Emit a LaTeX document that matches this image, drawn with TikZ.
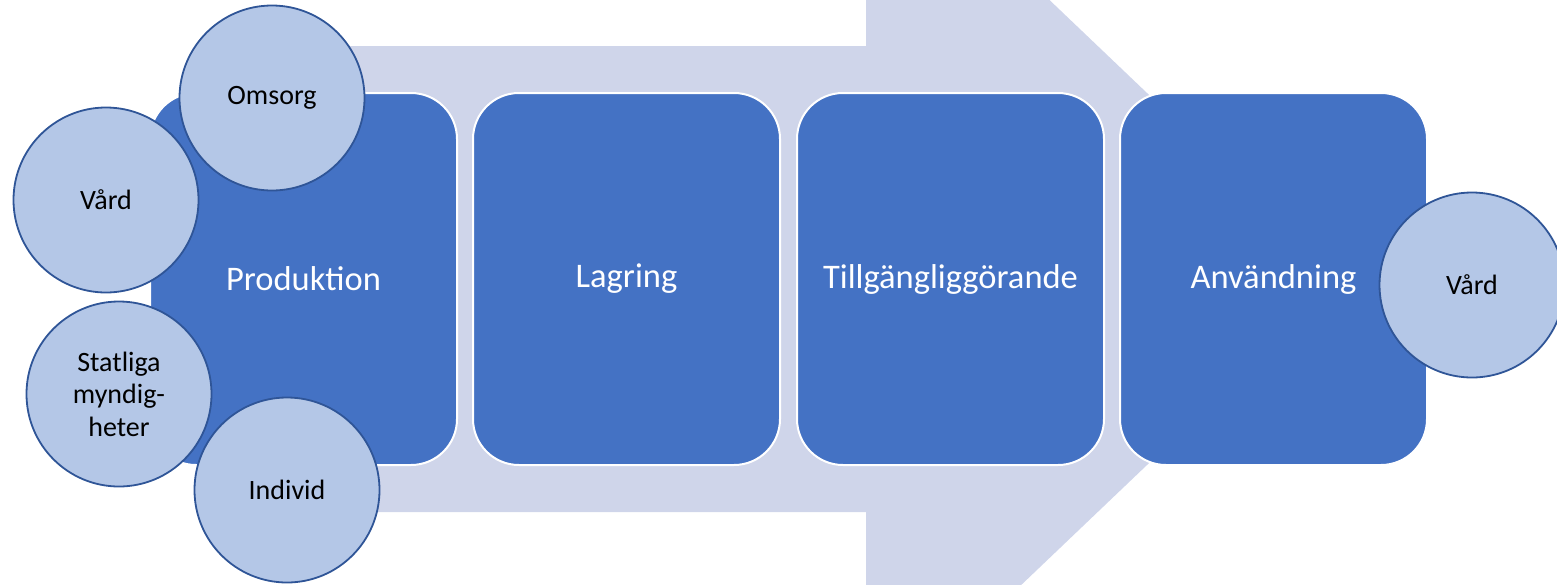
\documentclass[tikz,border=0pt]{standalone}
\usepackage{fontspec}
\setmainfont{Carlito}
\definecolor{arrowfill}{HTML}{CFD5EA}
\definecolor{boxfill}{HTML}{4472C4}
\definecolor{circfill}{HTML}{B4C7E7}
\definecolor{circline}{HTML}{2F5597}
\tikzset{
  stagebox/.style={rectangle, rounded corners=46pt, fill=boxfill, draw=white, line width=2pt,
    minimum width=307pt, minimum height=372pt, inner sep=0pt, text=white,
    font=\fontsize{34.5}{41}\selectfont},
  actor/.style={circle, fill=circfill, draw=circline, line width=1.8pt, minimum size=185pt,
    inner sep=0pt, align=center, text=black, font=\fontsize{28}{32.6}\selectfont}
}
\begin{document}
\begin{tikzpicture}[x=1pt,y=-1pt]
\useasboundingbox (0,0) rectangle (1557,584);
\clip (0,0) rectangle (1557,584);
\fill[arrowfill] (250,46) -- (866,46) -- (866,-175) -- (1342,279) -- (866,733) -- (866,512) -- (250,512) -- cycle;
\node[stagebox] (prod) at (303.5,279) {Produktion};
\node[stagebox] (lag) at (626.5,279) {Lagring};
\node[stagebox] (till) at (950.5,279) {Tillgängliggörande};
\node[stagebox] (anv) at (1273.5,279) {Användning};
\node[actor] (omsorg) at (272,98) {Omsorg};
\node[actor] (vard) at (106,200) {Vård};
\node[actor] (stat) at (119,394) {Statliga\\myndig-\\heter};
\node[actor] (indiv) at (287,490) {Individ};
\node[actor] (vard2) at (1472,285) {Vård};
\end{tikzpicture}
\end{document}
